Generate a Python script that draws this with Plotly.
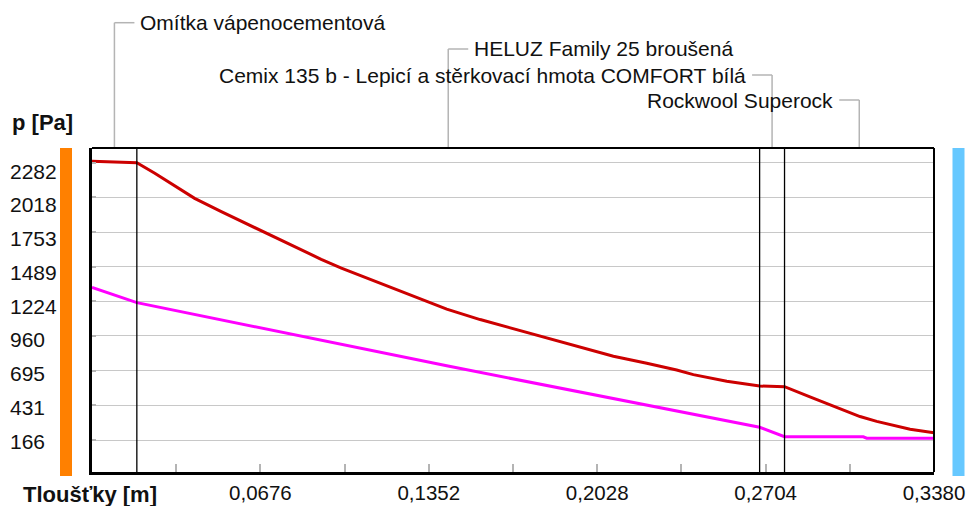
import plotly.graph_objects as go

# ---- data ----
layer_names = ["Omítka vápenocementová", "HELUZ Family 25 broušená",
               "Cemix 135 b - Lepicí a stěrkovací hmota COMFORT bílá", "Rockwool Superock"]
layer_thickness = [0.018, 0.250, 0.010, 0.060]

red_x = [0.0, 0.018, 0.0252, 0.0332, 0.0412, 0.0519, 0.0599, 0.0680, 0.0787, 0.0920, 0.1001,
         0.1121, 0.1188, 0.1290, 0.1424, 0.1558, 0.1691, 0.1825, 0.1959, 0.2093, 0.2227,
         0.2347, 0.2414, 0.2548, 0.268, 0.278, 0.2882, 0.2949, 0.3016, 0.3083, 0.3150,
         0.3217, 0.3284, 0.338]
red_p = [2292, 2282, 2201, 2105, 2010, 1908, 1835, 1762, 1660, 1545, 1478,
         1390, 1340, 1262, 1165, 1085, 1015, 945, 870, 805, 752,
         700, 665, 615, 578, 573, 496, 446, 392, 345, 308,
         276, 248, 222]

mag_x = [0.0, 0.018, 0.1424, 0.268, 0.278, 0.3096, 0.311, 0.338]
mag_p = [1331, 1214, 732, 263, 191, 191, 180, 180]

y_ticks = [166, 431, 695, 960, 1224, 1489, 1753, 2018, 2282]
x_ticks = [0.0, 0.0338, 0.0676, 0.1014, 0.1352, 0.1690, 0.2028, 0.2366, 0.2704, 0.3042, 0.3380]
x_tick_text = ["", "", "0,0676", "", "0,1352", "", "0,2028", "", "0,2704", "", "0,3380"]

# ---- layout constants ----
W, H = 968, 506
L, R, T, B = 92, 34, 148, 34
PW, PH = W - L - R, H - T - B
FONT = "Liberation Sans, Arial, sans-serif"
TXT = "#111111"


def py(pix):  # pixel row -> paper y
    return (H - B - pix) / PH


def px(pix):  # pixel column -> paper x
    return (pix - L) / PW


fig = go.Figure()
fig.add_trace(go.Scatter(x=red_x, y=red_p, mode="lines",
                         line=dict(color="#cc0000", width=3), hoverinfo="skip"))
fig.add_trace(go.Scatter(x=mag_x, y=mag_p, mode="lines",
                         line=dict(color="#ff00ff", width=3), hoverinfo="skip"))

shapes = []
annotations = []

# layer boundaries and leader labels
bounds = [0.0]
for t in layer_thickness:
    bounds.append(round(bounds[-1] + t, 6))
for b in bounds[1:-1]:
    shapes.append(dict(type="line", xref="x", yref="paper", x0=b, x1=b, y0=0, y1=1,
                       line=dict(color="black", width=1.3), layer="above"))

label_rows = [22.7, 49, 75, 100]
label_dirs = [1, 1, -1, -1]
for name, a, b, row, d in zip(layer_names, bounds[:-1], bounds[1:], label_rows, label_dirs):
    mid = (a + b) / 2
    yy = py(row)
    shapes.append(dict(type="line", xref="x", yref="paper", x0=mid, x1=mid, y0=1, y1=yy,
                       line=dict(color="#b4b4b4", width=1.5)))
    shapes.append(dict(type="line", xref="x", yref="paper", xsizemode="pixel", xanchor=mid,
                       x0=0, x1=20 * d, y0=yy, y1=yy,
                       line=dict(color="#b4b4b4", width=1.5)))
    annotations.append(dict(text=name, xref="x", yref="paper", x=mid, y=yy,
                            xshift=24 * d, xanchor="left" if d > 0 else "right",
                            yanchor="middle", showarrow=False,
                            font=dict(family=FONT, size=21, color=TXT)))

# y tick labels (left aligned)
for i, v in enumerate(y_ticks):
    annotations.append(dict(text=str(v), xref="paper", yref="y", x=px(8), y=v,
                            xanchor="left", yanchor="middle", yshift=1 - 0.92 * i - 2,
                            showarrow=False, font=dict(family=FONT, size=21, color=TXT)))

annotations.append(dict(text="<b>p [Pa]</b>", xref="paper", yref="paper", x=px(10), y=py(122),
                        xanchor="left", yanchor="middle", showarrow=False,
                        font=dict(family=FONT, size=22, color=TXT)))
annotations.append(dict(text="<b>Tloušťky [m]</b>", xref="paper", yref="paper", x=px(21), y=py(494),
                        xanchor="left", yanchor="middle", showarrow=False,
                        font=dict(family=FONT, size=22, color=TXT)))

# frame top/right
shapes.append(dict(type="line", xref="paper", yref="paper", x0=0, x1=1, y0=1, y1=1,
                   line=dict(color="black", width=2)))
shapes.append(dict(type="line", xref="paper", yref="paper", x0=1, x1=1, y0=0, y1=1,
                   line=dict(color="black", width=2)))

# side colour bars
shapes.append(dict(type="rect", xref="paper", yref="paper", x0=px(60), x1=px(72),
                   y0=py(476), y1=py(148), fillcolor="#ff8000", line=dict(width=0)))
shapes.append(dict(type="rect", xref="paper", yref="paper", x0=px(952.5), x1=px(964.5),
                   y0=py(476), y1=py(148), fillcolor="#66c8ff", line=dict(width=0)))

fig.update_layout(
    width=W, height=H, margin=dict(l=L, r=R, t=T, b=B, autoexpand=False),
    paper_bgcolor="white", plot_bgcolor="white", showlegend=False,
    shapes=shapes, annotations=annotations,
    font=dict(family=FONT, size=21, color=TXT),
)
fig.update_xaxes(range=[0, 0.338], tickvals=x_ticks, ticktext=x_tick_text, automargin=False,
                 ticks="inside", ticklen=8, tickwidth=1.5, tickcolor="#b4b4b4",
                 showgrid=False, zeroline=False, showline=True, linewidth=3, linecolor="black",
                 tickfont=dict(family=FONT, size=20.5, color=TXT))
fig.update_yaxes(range=[-78, 2394], tickvals=y_ticks, showticklabels=False, automargin=False,
                 ticks="inside", ticklen=4, tickwidth=1.5, tickcolor="#b4b4b4",
                 showgrid=True, gridcolor="#c8c8c8", gridwidth=1.3,
                 zeroline=False, showline=True, linewidth=3, linecolor="black")

fig.write_html("out.html", config={"displayModeBar": False},
               post_script="document.body.style.margin='0px';")
